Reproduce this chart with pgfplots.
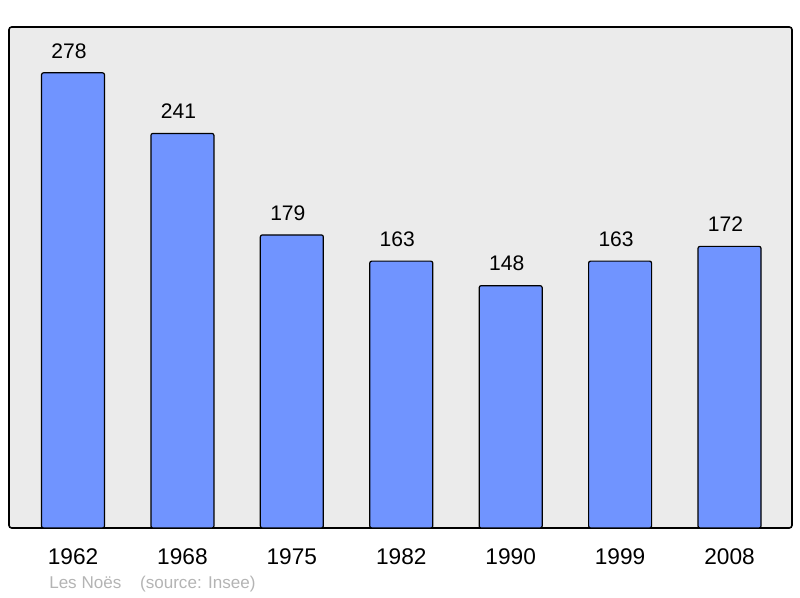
\documentclass[border=0pt]{standalone}
\usepackage{pgfplots}
\pgfplotsset{compat=1.18}
\usepackage{fontspec}
\setmainfont{Liberation Sans}
\definecolor{barblue}{RGB}{112,148,255}
\definecolor{panel}{RGB}{235,235,235}
\definecolor{srcgray}{RGB}{180,180,180}

\begin{document}
\begin{tikzpicture}[x=0.75pt,y=0.75pt]
\path[use as bounding box] (0,0) rectangle (800,598);
\begin{axis}[
    at={(6.75pt,52.5pt)}, anchor=south west,
    scale only axis,
    width=587.25pt, height=375.75pt,
    xmin=-0.585, xmax=6.571,
    ymin=0, ymax=306,
    axis line style={draw=none},
    axis background/.style={fill=panel, draw=black, line width=1.2pt, rounded corners=2pt},
    ytick=\empty,
    xtick=data,
    xticklabels={1962,1968,1975,1982,1990,1999,2008},
    major tick length=0pt,
    xticklabel style={anchor=north, inner sep=0pt, yshift=-15pt, font=\fontsize{17}{19}\selectfont},
    /pgf/number format/assume math mode=true,
    ybar, bar width=47.25pt,
    nodes near coords,
    nodes near coords style={anchor=south, inner sep=0pt, yshift=10.5pt, xshift=-3pt, font=\fontsize{15.8}{17}\selectfont, text=black},
    clip=false,
]
\addplot[fill=barblue, draw=black, line width=0.9pt, rounded corners=1.5pt] coordinates {
    (0,278) (1,241) (2,179) (3,163) (4,148) (5,163) (6,172)
};
\end{axis}
\node[anchor=base west, inner sep=0pt, text=srcgray, font=\fontsize{12.8}{14}\selectfont] at (49,9) {Les Noës\hspace{1.1em}(source: Insee)};
\end{tikzpicture}
\end{document}
